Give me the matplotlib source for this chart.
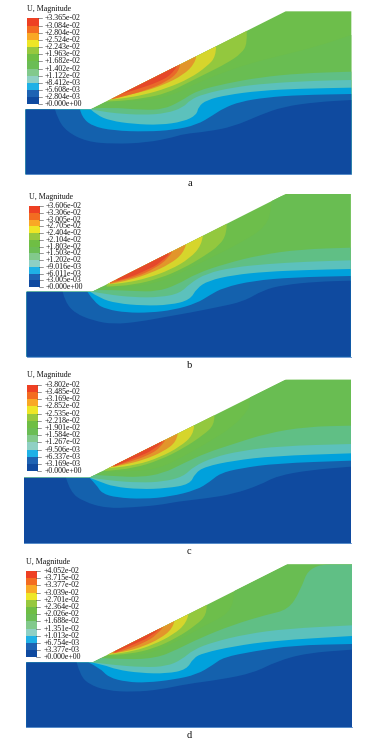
import matplotlib
matplotlib.use('Agg')
import matplotlib.pyplot as plt
from matplotlib.patches import Polygon, Rectangle, PathPatch
from matplotlib.path import Path

# contour outlines, in px*3 of the panel crop
labels_a = ['+3.365e-02','+3.084e-02','+2.804e-02','+2.524e-02','+2.243e-02','+1.963e-02','+1.682e-02','+1.402e-02','+1.122e-02','+8.412e-03','+5.608e-03','+2.804e-03','+0.000e+00']
labels_b = ['+3.606e-02','+3.306e-02','+3.005e-02','+2.705e-02','+2.404e-02','+2.104e-02','+1.803e-02','+1.503e-02','+1.202e-02','+9.016e-03','+6.011e-03','+3.005e-03','+0.000e+00']
labels_c = ['+3.802e-02','+3.485e-02','+3.169e-02','+2.852e-02','+2.535e-02','+2.218e-02','+1.901e-02','+1.584e-02','+1.267e-02','+9.506e-03','+6.337e-03','+3.169e-03','+0.000e+00']
labels_d = ['+4.052e-02','+3.715e-02','+3.377e-02','+3.039e-02','+2.701e-02','+2.364e-02','+2.026e-02','+1.688e-02','+1.351e-02','+1.013e-02','+6.754e-03','+3.377e-03','+0.000e+00']

legend_colors = ['#ee4023','#f36c21','#f9a825','#eee626','#97c83e','#6fbe44','#6bbd55','#82c98c','#8fd0c4','#1fb1e6','#1e63b3','#0f4aa0']

# low values, painted from the green band down to dark blue
low_colors = ['#69bd52','#60bf85','#5cc1bc','#00a1dc','#1461ad','#0f4a9f']
# high values, painted from yellow green up to red
high_colors = ['#93c83e','#d6d52c','#e2952b','#e9682a','#e5482a']

a_mid = [(305,305),(370,305),(450,300),(520,285),(580,255),(650,225),(750,190),(850,165),(950,140),(1054,105)]
a_gteal = [(280,325),(330,322),(430,330),(490,328),(540,305),(590,272),(680,250),(780,232),(900,220),(1054,215)]
a_teal = [(272,328),(300,333),(345,340),(430,345),(500,340),(550,322),(570,300),(610,282),(700,262),(800,250),(950,242),(1054,240)]
a_cyan = [(272,328),(290,345),(330,362),(400,372),(480,375),(550,365),(590,345),(595,320),(620,300),(680,285),(780,272),(900,266),(1054,263)]
a_mblue = [(240,328),(245,350),(275,378),(340,392),(440,395),(520,390),(590,375),(640,345),(670,325),(720,305),(800,292),(900,285),(1054,282)]
a_dark = [(165,328),(172,355),(200,395),(260,425),(340,432),(440,428),(520,412),(550,402),(620,395),(700,380),(780,345),(850,320),(950,306),(1054,300)]
a_yg = [(740,95),(742,130),(725,160),(680,190),(620,220),(560,250),(500,280),(430,295),(360,303),(305,305)]
a_yellow = [(648,140),(648,170),(620,200),(570,235),(500,265),(430,285),(370,295),(322,300)]
a_orange = [(588,172),(585,190),(550,225),(490,255),(430,275),(370,288),(330,298)]
a_ored = [(540,195),(537,215),(500,245),(440,270),(380,287),(335,298)]
a_red = [(530,200),(515,225),(470,248),(420,265),(370,280),(350,287)]

b_mid = [(300,290),(380,292),(470,280),(540,250),(620,210),(720,160),(800,110),(815,50),(815,12),(1052,12)]
b_gteal = [(285,300),(340,300),(400,303),(470,305),(530,285),(590,250),(680,220),(780,195),(900,178),(1052,173)]
b_teal = [(277,305),(320,313),(400,322),(480,322),(540,310),(570,280),(620,250),(700,232),(800,222),(920,215),(1052,211)]
b_cyan = [(270,305),(300,325),(350,340),(430,347),(510,345),(570,330),(590,295),(625,272),(700,255),(800,245),(920,240),(1052,237)]
b_mblue = [(262,305),(285,340),(320,358),(380,368),(450,368),(520,360),(590,340),(630,315),(670,293),(760,272),(880,262),(1052,258)]
b_dark = [(188,305),(195,335),(225,370),(280,392),(340,403),(420,395),(500,380),(570,368),(650,352),(730,335),(790,300),(850,285),(950,275),(1052,272)]
b_yg = [(680,105),(680,130),(660,165),(610,200),(550,235),(480,265),(400,285),(320,290)]
b_yellow = [(608,140),(605,165),(570,205),(510,240),(440,265),(380,278),(325,283)]
b_orange = [(557,167),(550,190),(510,222),(450,250),(390,270),(330,282)]
b_ored = [(515,188),(505,205),(465,235),(410,260),(360,272),(330,280)]
b_red = [(505,195),(480,220),(440,240),(390,262),(350,272)]

c_mid = [(310,305),(400,305),(480,295),(550,260),(620,220),(700,170),(745,120),(750,100),(750,29),(1053,29)]
c_gteal = [(285,315),(340,318),(420,322),(490,310),(550,280),(620,248),(700,222),(800,190),(920,170),(1053,167)]
c_teal = [(268,323),(330,332),(420,338),(490,335),(550,320),(580,290),(640,262),(720,243),(840,228),(1053,222)]
c_cyan = [(268,323),(300,335),(340,350),(420,358),(500,355),(570,343),(585,310),(615,290),(700,272),(820,258),(1053,250)]
c_mblue = [(268,323),(290,345),(305,370),(350,383),(430,387),(510,380),(590,360),(630,335),(660,310),(720,295),(830,280),(1053,272)]
c_dark = [(198,323),(210,365),(250,395),(320,415),(400,412),(480,405),(530,395),(620,385),(700,372),(780,345),(830,318),(930,300),(1053,290)]
c_yg = [(643,140),(643,165),(610,195),(550,235),(480,270),(400,295),(315,303)]
c_yellow = [(582,170),(580,195),(540,230),(480,262),(410,285),(325,295)]
c_orange = [(533,192),(530,215),(490,245),(430,270),(370,285),(325,293)]
c_ored = [(495,212),(480,235),(440,258),(390,275),(340,290)]
c_red = [(485,218),(460,240),(420,258),(370,278),(345,288)]

d_mid = [(305,295),(400,295),(470,280),(540,245),(620,200),(690,165),(705,105),(705,19),(1056,19)]
d_gteal = [(300,300),(380,305),(470,300),(530,275),(600,240),(700,200),(800,170),(865,155),(900,100),(930,19),(1056,19)]
d_teal = [(278,313),(330,320),(430,328),(500,325),(545,305),(580,275),(640,252),(740,228),(860,212),(1056,202)]
d_cyan = [(272,313),(310,320),(350,335),(420,345),(500,347),(560,335),(580,300),(610,285),(700,265),(820,248),(1056,234)]
d_mblue = [(265,313),(300,330),(325,358),(380,372),(440,374),(520,365),(590,350),(640,320),(670,298),(760,280),(880,262),(1056,258)]
d_dark = [(230,313),(240,350),(265,378),(320,398),(400,402),(480,395),(560,378),(660,365),(760,345),(830,310),(920,285),(1056,275)]
d_yg = [(620,145),(620,170),(590,200),(530,240),(460,272),(390,288),(315,292)]
d_yellow = [(565,170),(560,195),(520,230),(460,260),(400,280),(325,290)]
d_orange = [(523,190),(518,212),(480,242),(430,265),(380,280),(325,288)]
d_ored = [(490,207),(470,232),(430,255),(380,275),(340,286)]
d_red = [(478,213),(450,237),(410,255),(370,272),(345,283)]

fig = plt.figure(figsize=(3.74,7.48), dpi=100)
ax = fig.add_axes([0,0,1,1])
ax.set_xlim(0,374)
ax.set_ylim(748,0)
ax.axis('off')


def smooth_patch(curve, closing, col, z):
    # read points are the control points of quadratic beziers, closing part stays straight
    verts = [curve[0]]
    codes = [Path.MOVETO]
    for i in range(1, len(curve)-1):
        mid = ((curve[i][0]+curve[i+1][0])/2, (curve[i][1]+curve[i+1][1])/2)
        verts += [curve[i], mid]
        codes += [Path.CURVE3, Path.CURVE3]
    verts.append(curve[-1])
    codes.append(Path.LINETO)
    for pt in closing:
        verts.append(pt)
        codes.append(Path.LINETO)
    verts.append(curve[0])
    codes.append(Path.CLOSEPOLY)
    return PathPatch(Path(verts, codes), fc=col, ec='none', zorder=z)


def draw_panel(off, box, low, high, labels, leg, cap, cap_xy):
    left, surf, toe, topx, topy, right, bottom = box
    P = lambda pts: [(x/3, y/3+off) for x, y in pts]
    domain = Polygon(P([(left,surf),(toe,surf),(topx,topy),(right,topy),(right,bottom),(left,bottom)]),
                     closed=True, fc='#6dbe4b', ec='none', zorder=1)
    ax.add_patch(domain)
    z = 2
    # below the curve
    for curve, col in zip(low, low_colors):
        closing = [(right+5,curve[-1][1]),(right+5,bottom+5),(left-5,bottom+5),(left-5,curve[0][1])]
        p = smooth_patch(P(curve), P(closing), col, z)
        ax.add_patch(p)
        p.set_clip_path(domain)
        z += 1
    # up to the slope
    for curve, col in zip(high, high_colors):
        closing = [(curve[-1][0],curve[-1][1]-50),(curve[0][0],curve[0][1]-50)]
        p = smooth_patch(P(curve), P(closing), col, z)
        ax.add_patch(p)
        p.set_clip_path(domain)
        z += 1
    # pale edge the image has along the bottom
    ax.plot(*zip(*P([(left,bottom),(right,bottom)])), color='#5f8fd0', lw=0.6, zorder=z)

    # legend
    x0, x1, y0, y1, tx, ty, lx = leg
    step = (y1-y0)/12
    for i, col in enumerate(legend_colors):
        ax.add_patch(Rectangle((x0/3, (y0+i*step)/3+off), (x1-x0)/3, step/3, fc=col, ec='none', zorder=z))
    for i, lab in enumerate(labels):
        yy = (y0+i*step)/3+off
        ax.plot([x1/3-1,x1/3+3.5], [yy,yy], color='#444444', lw=0.4, zorder=z+1)
        ax.text(lx/3, yy, lab, fontsize=5.7, family='Liberation Serif', va='center', ha='left', color='#111111')
    ax.text(tx/3, ty/3+off, 'U, Magnitude', fontsize=5.7, family='Liberation Serif', va='center', ha='left', color='#111111')
    ax.text(cap_xy[0]/3, cap_xy[1]/3+off, cap, fontsize=7.5, family='Liberation Serif', va='center', ha='center', color='#111111')


draw_panel(0, (77,328,272,857,34,1054,523),
           [a_mid,a_gteal,a_teal,a_cyan,a_mblue,a_dark], [a_yg,a_yellow,a_orange,a_ored,a_red],
           labels_a, (82,116,55,313,81,27,134), 'a', (570,549))
draw_panel(190, (80,305,277,857,12,1052,500),
           [b_mid,b_gteal,b_teal,b_cyan,b_mblue,b_dark], [b_yg,b_yellow,b_orange,b_ored,b_red],
           labels_b, (88,119,48,291,88,22,138), 'b', (570,525))
draw_panel(370, (72,323,268,857,29,1053,520),
           [c_mid,c_gteal,c_teal,c_cyan,c_mblue,c_dark], [c_yg,c_yellow,c_orange,c_ored,c_red],
           labels_c, (81,113,44,304,80,15,133), 'c', (568,546))
draw_panel(558, (79,313,278,862,19,1056,508),
           [d_mid,d_gteal,d_teal,d_cyan,d_mblue,d_dark], [d_yg,d_yellow,d_orange,d_ored,d_red],
           labels_d, (77,111,39,298,77,11,131), 'd', (568,532))

fig.savefig('out.png', dpi=100)
